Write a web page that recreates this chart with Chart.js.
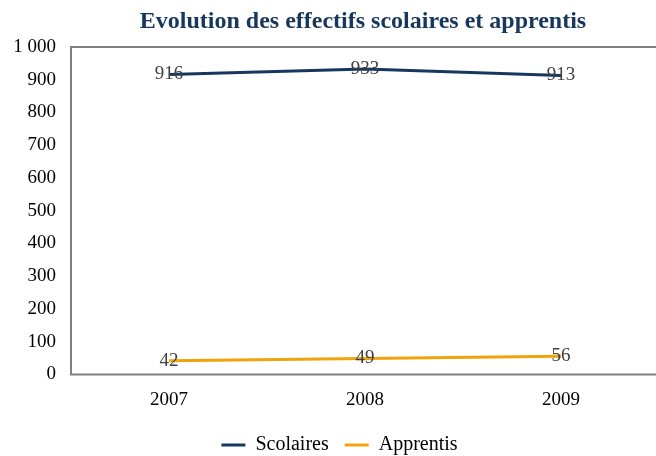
<!DOCTYPE html>
<html><head><meta charset="utf-8">
<script src="https://cdn.jsdelivr.net/npm/chart.js@4"></script>
<style>html,body{margin:0;padding:0;overflow:hidden;background:#fff}#wrap{width:660px;height:465px}</style>
</head><body><div id="wrap"><canvas id="c" width="660" height="465"></canvas></div>
<script>
const titleText = "Evolution des effectifs scolaires et apprentis";
const categories = ["2007", "2008", "2009"];
const seriesNames = ["Scolaires", "Apprentis"];
const scolaires = [916, 933, 913];
const apprentis = [42, 49, 56];
const yMin = 0, yMax = 1000, yStep = 100;

const SERIF = "'Liberation Serif', 'Times New Roman', serif";
const NAVY = "#17375E";
const ORANGE = "#F0A30A";

function fmt(v) { return String(v).replace(/\B(?=(\d{3})+(?!\d))/g, " "); }

const framePlugin = {
  id: "frame",
  afterLayout(chart) {
    if (chart.legend) { chart.legend.left += 20; }
  },
  beforeDatasetsDraw(chart) {
    const a = chart.chartArea, ctx = chart.ctx;
    ctx.save();
    ctx.strokeStyle = "#808080";
    ctx.lineWidth = 2;
    ctx.strokeRect(a.left, a.top, a.right - a.left, a.bottom - a.top);
    ctx.restore();
  }
};
const titlePlugin = {
  id: "ctitle",
  afterDraw(chart) {
    const a = chart.chartArea, ctx = chart.ctx;
    ctx.save();
    ctx.font = "bold 24px " + SERIF;
    ctx.fillStyle = NAVY;
    ctx.textAlign = "center";
    ctx.textBaseline = "middle";
    ctx.fillText(titleText, (a.left + a.right) / 2 - 2, 22);
    ctx.restore();
  }
};
const labelPlugin = {
  id: "vlabels",
  afterDatasetsDraw(chart) {
    const ctx = chart.ctx;
    ctx.save();
    ctx.font = "19px " + SERIF;
    ctx.fillStyle = "#404040";
    ctx.textAlign = "center";
    ctx.textBaseline = "middle";
    chart.data.datasets.forEach((ds, i) => {
      const meta = chart.getDatasetMeta(i);
      meta.data.forEach((el, j) => {
        ctx.fillText(fmt(ds.data[j]), el.x, el.y);
      });
    });
    ctx.restore();
  }
};

new Chart(document.getElementById("c"), {
  type: "line",
  data: {
    labels: categories,
    datasets: [
      { label: seriesNames[0], data: scolaires, borderColor: NAVY, backgroundColor: NAVY, borderWidth: 3, pointRadius: 0, tension: 0 },
      { label: seriesNames[1], data: apprentis, borderColor: ORANGE, backgroundColor: ORANGE, borderWidth: 3, pointRadius: 0, tension: 0 }
    ]
  },
  options: {
    responsive: false,
    animation: false,
    layout: { padding: { left: 0, right: 1, top: 47, bottom: 0 } },
    plugins: {
      title: { display: false },
      tooltip: { enabled: false },
      legend: {
        position: "bottom",
        labels: {
          usePointStyle: true,
          pointStyle: "line",
          pointStyleWidth: 24,
          padding: 16,
          color: "#000",
          font: { family: SERIF, size: 20 }
        }
      }
    },
    scales: {
      x: {
        offset: true,
        grid: { display: false, drawTicks: false },
        border: { display: false },
        ticks: { color: "#000", font: { family: SERIF, size: 19 }, padding: 14, maxRotation: 0 },
        afterFit(s) { s.height = 44.5; }
      },
      y: {
        min: yMin, max: yMax,
        grid: { display: false, drawTicks: false },
        border: { display: false },
        ticks: { stepSize: yStep, color: "#000", font: { family: SERIF, size: 19 }, padding: 15, callback: v => fmt(v) },
        afterFit(s) { s.width = 71; }
      }
    }
  },
  plugins: [framePlugin, titlePlugin, labelPlugin]
});
</script>
</body></html>
